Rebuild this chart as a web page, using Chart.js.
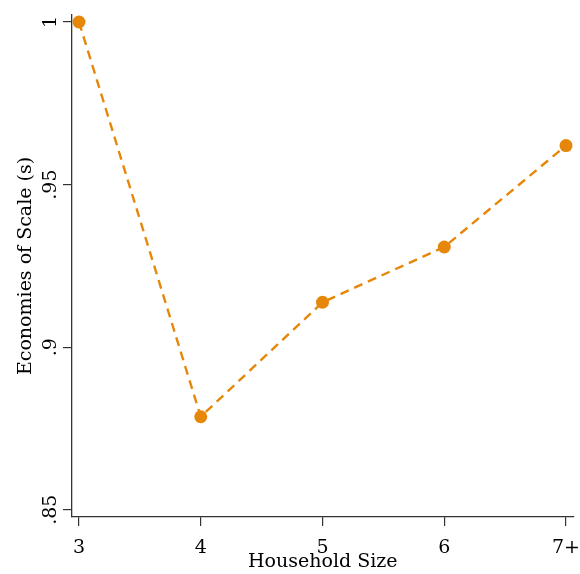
<!DOCTYPE html>
<html>
<head>
<meta charset="utf-8">
<script src="https://cdn.jsdelivr.net/npm/chart.js@4.4.1/dist/chart.umd.min.js"></script>
<style>
  html, body { margin: 0; padding: 0; background: #fff; }
  #wrap { width: 580px; height: 574px; }
</style>
</head>
<body>
<div id="wrap"><canvas id="myChart" width="580" height="574"></canvas></div>
<script>
// data
var householdSize = [3, 4, 5, 6, 7];
var economies = [1.0, 0.8786, 0.9138, 0.9308, 0.962];
var xTickLabels = ['3', '4', '5', '6', '7+'];
var yTicks = [0.85, 0.9, 0.95, 1];
var yTickLabels = ['.85', '.9', '.95', '1'];

var serif = '"DejaVu Serif", "Liberation Serif", serif';
var orange = '#e6870a';

// y tick labels are rotated like the original, drawn at the scale's own positions
var rotatedYLabels = {
    id: 'rotatedYLabels',
    afterDraw: function (chart) {
        var ctx = chart.ctx, y = chart.scales.y;
        ctx.save();
        ctx.font = '19px ' + serif;
        ctx.fillStyle = '#000';
        ctx.textAlign = 'center';
        ctx.textBaseline = 'alphabetic';
        yTicks.forEach(function (v, i) {
            var py = y.getPixelForValue(v);
            ctx.save();
            ctx.translate(56, py);
            ctx.rotate(-Math.PI / 2);
            ctx.fillText(yTickLabels[i], 0, 0);
            ctx.restore();
        });
        ctx.restore();
    }
};

var ctx = document.getElementById('myChart').getContext('2d');
var chart = new Chart(ctx, {
    type: 'line',
    data: {
        datasets: [{
            data: householdSize.map(function (h, i) { return { x: h, y: economies[i] }; }),
            borderColor: orange,
            backgroundColor: orange,
            borderWidth: 2.4,
            borderDash: [9, 6],
            pointRadius: 6.5,
            pointBorderWidth: 0,
            pointBackgroundColor: orange,
            tension: 0,
            clip: false
        }]
    },
    options: {
        responsive: false,
        animation: false,
        layout: { padding: { left: 0, top: 15, right: 5, bottom: 0 } },
        plugins: {
            legend: { display: false },
            tooltip: { enabled: false }
        },
        scales: {
            x: {
                type: 'linear',
                min: 2.9427,
                max: 7.0614,
                afterBuildTicks: function (s) { s.ticks = householdSize.map(function (v) { return { value: v }; }); },
                afterFit: function (s) { s.height = 57; s.paddingLeft = 0; s.paddingRight = 0; },
                ticks: {
                    font: { family: serif, size: 19 },
                    color: '#000',
                    padding: 11,
                    maxRotation: 0,
                    callback: function (v) { return xTickLabels[householdSize.indexOf(v)]; }
                },
                grid: { drawOnChartArea: false, drawTicks: true, tickLength: 9, color: '#333', lineWidth: 1.2 },
                border: { display: true, color: '#333', width: 1.3 },
                title: {
                    display: true,
                    text: 'Household Size',
                    font: { family: serif, size: 19, lineHeight: 1 },
                    color: '#000',
                    padding: { top: 0, bottom: 2 }
                }
            },
            y: {
                type: 'linear',
                min: 0.84776,
                max: 1.00215,
                afterBuildTicks: function (s) { s.ticks = yTicks.map(function (v) { return { value: v }; }); },
                afterFit: function (s) { s.width = 72; s.paddingTop = 0; s.paddingBottom = 0; },
                ticks: { display: false },
                grid: { drawOnChartArea: false, drawTicks: true, tickLength: 9, color: '#333', lineWidth: 1.2 },
                border: { display: true, color: '#333', width: 1.3 },
                title: {
                    display: true,
                    text: 'Economies of Scale (s)',
                    font: { family: serif, size: 19, lineHeight: 1 },
                    color: '#000',
                    padding: { top: 17, bottom: 0 }
                }
            }
        }
    },
    plugins: [rotatedYLabels]
});
</script>
</body>
</html>
